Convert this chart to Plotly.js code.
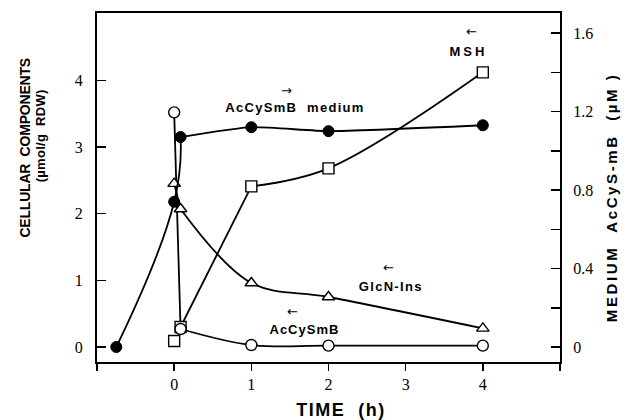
<!DOCTYPE html>
<html>
<head>
<meta charset="utf-8">
<script src="https://cdn.plot.ly/plotly-3.0.1.min.js"></script>
<style>html,body{margin:0;padding:0;background:#fff;}#chart{width:631px;height:420px;}</style>
</head>
<body>
<div id="chart"></div>
<script>
// Time (h)
const mediumTime = [-0.75, 0, 0.083, 1, 2, 4];
const mediumAcCySmB = [0, 0.74, 1.07, 1.12, 1.10, 1.13];   // right axis, µM

const cellTime = [0, 0.083, 1, 2, 4];
const cellAcCySmB = [3.52, 0.27, 0.03, 0.02, 0.02];        // left axis, µmol/g RDW
const glcnIns = [2.45, 2.07, 0.96, 0.75, 0.28];
const msh = [0.09, 0.30, 2.41, 2.68, 4.12];

const xTickVals = [-1, 0, 1, 2, 3, 4, 5];
const xTickText = ['', '0', '1', '2', '3', '4', ''];
const yTickVals = [0, 1, 2, 3, 4];
const y2TickVals = [0, 0.2, 0.4, 0.6, 0.8, 1.0, 1.2, 1.4, 1.6];
const y2TickText = ['0', '', '0.4', '', '0.8', '', '1.2', '', '1.6'];

function seg(xs, ys, from, to, axis, shape, smoothing) {
  return {x: xs.slice(from, to), y: ys.slice(from, to), mode: 'lines', yaxis: axis,
    line: {color: '#000', width: 1.8, shape: shape, smoothing: smoothing}, hoverinfo: 'skip', cliponaxis: false};
}
const openMarker = (sym) => ({symbol: sym, size: 11, color: '#fff', line: {color: '#000', width: 1.4}});
function marks(xs, ys, axis, marker) {
  return {x: xs, y: ys, mode: 'markers', yaxis: axis, marker: marker, cliponaxis: false};
}

const traces = [
  // line pieces
  seg(cellTime, msh, 1, 3, 'y', 'linear', 0),
  seg(cellTime, msh, 2, undefined, 'y', 'spline', 1.0),
  seg(cellTime, glcnIns, 0, 2, 'y', 'linear', 0),
  seg(cellTime, glcnIns, 1, undefined, 'y', 'spline', 1.0),
  seg(mediumTime, mediumAcCySmB, 0, 3, 'y2', 'spline', 1.3),
  seg(mediumTime, mediumAcCySmB, 2, undefined, 'y2', 'spline', 0.5),
  seg(cellTime, cellAcCySmB, 0, 2, 'y', 'linear', 0),
  seg(cellTime, cellAcCySmB, 1, undefined, 'y', 'spline', 1.0),
  // markers
  marks(cellTime, msh, 'y', openMarker('square')),
  marks(cellTime, glcnIns, 'y', openMarker('triangle-up')),
  marks(mediumTime, mediumAcCySmB, 'y2', {symbol: 'circle', size: 11, color: '#000', line: {color: '#000', width: 1}}),
  marks(cellTime, cellAcCySmB, 'y', openMarker('circle'))
];

const tickFont = {family: '"Liberation Serif", "Times New Roman", serif', size: 16, color: '#000'};
const sans = '"Liberation Sans", Arial, sans-serif';
const labFont = {family: sans, size: 13, color: '#000'};
const arrowFont = {family: '"DejaVu Sans", sans-serif', size: 13, color: '#000'};

const annotations = [
  {xref: 'paper', yref: 'paper', x: -0.155, y: 0.615, textangle: -90, showarrow: false,
   text: '<b>CELLULAR\u00a0 COMPONENTS</b>', font: {family: sans, size: 14, color: '#000'}, spacing: -0.2},
  {xref: 'paper', yref: 'paper', x: -0.122, y: 0.648, textangle: -90, showarrow: false,
   text: '<b>(\u00b5mol/g\u00a0 RDW)</b>', font: {family: sans, size: 13, color: '#000'}, spacing: 0.3},
  {xref: 'paper', yref: 'paper', x: 1.113, y: 0.473, textangle: -90, showarrow: false,
   text: '<b>MEDIUM\u00a0 AcCyS-mB\u00a0 (\u00b5M )</b>', font: {family: sans, size: 15, color: '#000'}, spacing: 2.6},
  {xref: 'paper', yref: 'paper', x: 0.528, y: -0.138, showarrow: false,
   text: '<b>TIME\u00a0 (h)</b>', font: {family: sans, size: 18, color: '#000'}, spacing: 1.5},

  {xref: 'x', yref: 'y', x: 3.85, y: 4.73, showarrow: false, text: '\u2190', font: arrowFont, spacing: 0},
  {xref: 'x', yref: 'y', x: 3.82, y: 4.44, showarrow: false, text: '<b>MSH</b>', font: labFont, spacing: 3},
  {xref: 'x', yref: 'y', x: 1.45, y: 3.85, showarrow: false, text: '\u2192', font: arrowFont, spacing: 0},
  {xref: 'x', yref: 'y', x: 1.57, y: 3.6, showarrow: false, text: '<b>AcCySmB\u00a0 medium</b>', font: labFont, spacing: 1.3},
  {xref: 'x', yref: 'y', x: 2.78, y: 1.2, showarrow: false, text: '\u2190', font: arrowFont, spacing: 0},
  {xref: 'x', yref: 'y', x: 2.8, y: 0.91, showarrow: false, text: '<b>GlcN-Ins</b>', font: labFont, spacing: 1.3},
  {xref: 'x', yref: 'y', x: 1.53, y: 0.53, showarrow: false, text: '\u2190', font: arrowFont, spacing: 0},
  {xref: 'x', yref: 'y', x: 1.69, y: 0.27, showarrow: false, text: '<b>AcCySmB</b>', font: labFont, spacing: 1.0}
];
const letterSpacing = annotations.map(a => a.spacing);
annotations.forEach(a => { delete a.spacing; a.xanchor = 'center'; a.yanchor = 'middle'; });

const layout = {
  width: 631, height: 420,
  margin: {l: 97, r: 71, t: 13, b: 58},
  paper_bgcolor: '#fff', plot_bgcolor: '#fff',
  showlegend: false,
  font: tickFont,
  xaxis: {
    range: [-1, 5], tickvals: xTickVals, ticktext: xTickText,
    ticks: 'outside', ticklen: 7, tickwidth: 1.5, tickcolor: '#000',
    showline: true, linewidth: 2, linecolor: '#000', mirror: true,
    showgrid: false, zeroline: false, tickfont: tickFont
  },
  yaxis: {
    range: [-0.225, 5.01], tickvals: yTickVals,
    ticks: 'inside', ticklen: 9, tickwidth: 1.5, tickcolor: '#000',
    showline: true, linewidth: 2, linecolor: '#000',
    showgrid: false, zeroline: false, tickfont: tickFont, ticklabelstandoff: 9
  },
  yaxis2: {
    overlaying: 'y', side: 'right',
    range: [-0.0764, 1.702], tickvals: y2TickVals, ticktext: y2TickText,
    ticks: 'inside', ticklen: 9, tickwidth: 1.5, tickcolor: '#000',
    showline: true, linewidth: 2, linecolor: '#000',
    showgrid: false, zeroline: false, tickfont: tickFont, ticklabelstandoff: 8
  },
  annotations: annotations
};

Plotly.newPlot('chart', traces, layout, {displayModeBar: false, staticPlot: true}).then(gd => {
  gd.querySelectorAll('.annotation').forEach(g => {
    const i = +g.getAttribute('data-index');
    const t = g.querySelector('.annotation-text');
    if (t && letterSpacing[i]) t.style.letterSpacing = letterSpacing[i] + 'px';
  });
});
</script>
</body>
</html>
